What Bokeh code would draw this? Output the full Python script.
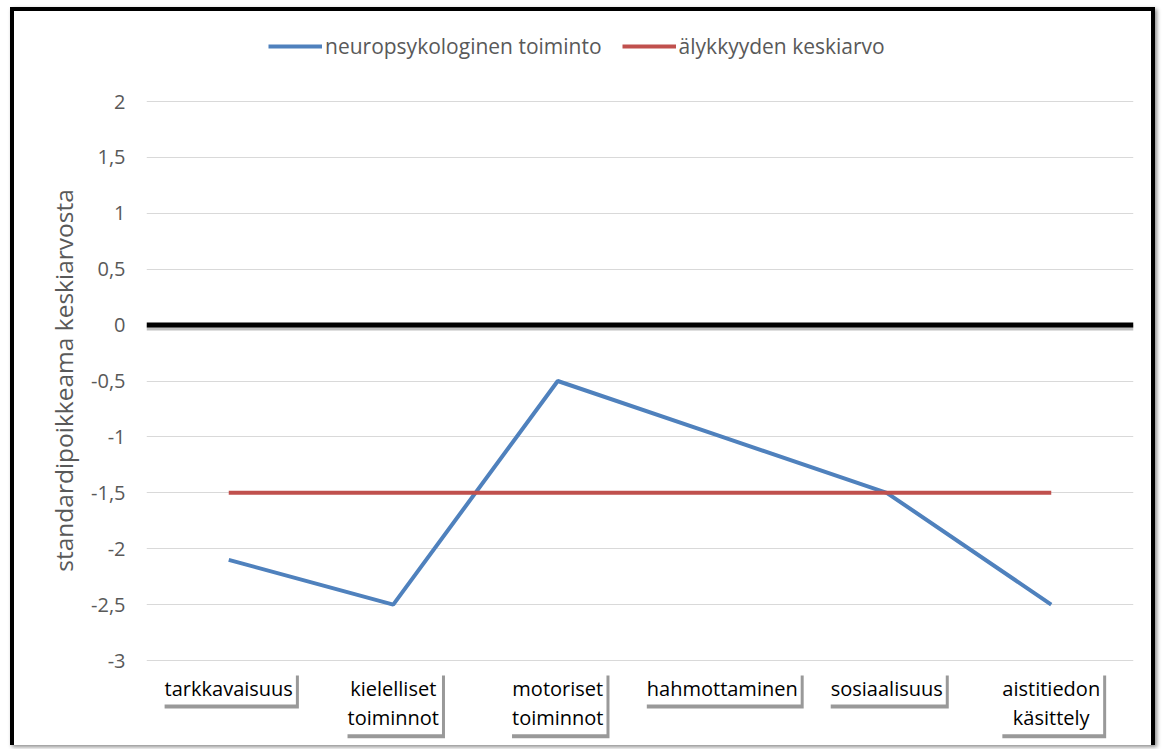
from bokeh.plotting import figure
from bokeh.models import (ColumnDataSource, FixedTicker, CustomJSTickFormatter, Span,
                          Legend, LegendItem, Range1d, FactorRange)
from bokeh.core.properties import value
from bokeh.embed import file_html
from bokeh.resources import INLINE

categories = ["tarkkavaisuus", "kielelliset toiminnot", "motoriset toiminnot",
              "hahmottaminen", "sosiaalisuus", "aistitiedon käsittely"]
category_labels = ["tarkkavaisuus", "kielelliset\ntoiminnot", "motoriset\ntoiminnot",
                   "hahmottaminen", "sosiaalisuus", "aistitiedon\nkäsittely"]
neuro = [-2.1, -2.5, -0.5, -1.0, -1.5, -2.5]
alykkyys = [-1.5, -1.5, -1.5, -1.5, -1.5, -1.5]
y_ticks = [-3, -2.5, -2, -1.5, -1, -0.5, 0, 0.5, 1, 1.5, 2]
series_names = ["neuropsykologinen toiminto", "älykkyyden keskiarvo"]
y_title = "standardipoikkeama keskiarvosta"

FONT = "Open Sans"
GREY = "#595959"
BLUE = "#4F81BD"
RED = "#C0504D"

src = ColumnDataSource(dict(cat=categories, lab=category_labels, neuro=neuro, aly=alykkyys,
                            base=[y_ticks[0]] * len(categories)))

# extra room inside the frame: legend above the top tick, category labels below the bottom tick
pad_top, pad_bottom = 0.805, 0.796
p = figure(width=1145, height=738, x_range=FactorRange(*categories),
           y_range=Range1d(y_ticks[0] - pad_bottom, y_ticks[-1] + pad_top),
           output_backend="svg", toolbar_location=None,
           min_border_left=132, min_border_right=26, min_border_top=0, min_border_bottom=0)
p.outline_line_color = None
p.background_fill_color = "white"
p.border_fill_color = "white"
p.styles = {"border-top": "4px solid black", "border-left": "4px solid black",
            "border-right": "4px solid black", "margin-left": "10px", "margin-top": "7px",
            "box-shadow": "2px 2px 4px rgba(0,0,0,0.45)"}

p.xaxis.visible = False
p.xgrid.visible = False
p.ygrid.grid_line_color = "#D9D9D9"
p.ygrid.grid_line_width = 1

p.yaxis.ticker = FixedTicker(ticks=y_ticks)
p.yaxis.formatter = CustomJSTickFormatter(code="return tick.toString().replace('.', ',');")
p.yaxis.axis_line_color = None
p.yaxis.major_tick_line_color = None
p.yaxis.minor_tick_line_color = None
p.yaxis.major_label_text_font = FONT
p.yaxis.major_label_text_font_size = "20px"
p.yaxis.major_label_text_color = GREY
p.yaxis.major_label_standoff = 15
p.yaxis.axis_label = y_title
p.yaxis.axis_label_text_font = FONT
p.yaxis.axis_label_text_font_size = "24.5px"
p.yaxis.axis_label_text_font_style = "normal"
p.yaxis.axis_label_text_color = GREY
p.yaxis.axis_label_standoff = 8

# zero line with shadow
p.add_layout(Span(location=-0.03, dimension="width", line_color="black", line_alpha=0.25, line_width=4))
p.add_layout(Span(location=0, dimension="width", line_color="black", line_width=5))

r1 = p.line("cat", "neuro", source=src, line_color=BLUE, line_width=4)
r2 = p.line("cat", "aly", source=src, line_color=RED, line_width=4)

legend = Legend(items=[LegendItem(label=series_names[0], renderers=[r1]),
                       LegendItem(label=series_names[1], renderers=[r2])],
                orientation="horizontal", location=(122, 689),
                label_text_font=FONT, label_text_font_size="21px", label_text_color=GREY,
                glyph_width=54, glyph_height=22, label_standoff=3, spacing=20,
                border_line_color=None, background_fill_alpha=0, padding=0, margin=0)
p.add_layout(legend)

# category labels in white boxes with a drop shadow
p.text("cat", "base", text="lab", source=src, x_offset=3, y_offset=15,
       text_align="center", text_baseline="top", text_font=value(FONT),
       text_font_size="20px", text_alpha=0, text_line_height=1.1,
       background_fill_color="black", background_fill_alpha=0.4, padding=3)
p.text("cat", "base", text="lab", source=src, x_offset=0, y_offset=11,
       text_align="center", text_baseline="top", text_font=value(FONT),
       text_font_size="20px", text_color="black", text_line_height=1.1,
       background_fill_color="white", padding=3)

open("out.html", "w").write(file_html(p, INLINE))
